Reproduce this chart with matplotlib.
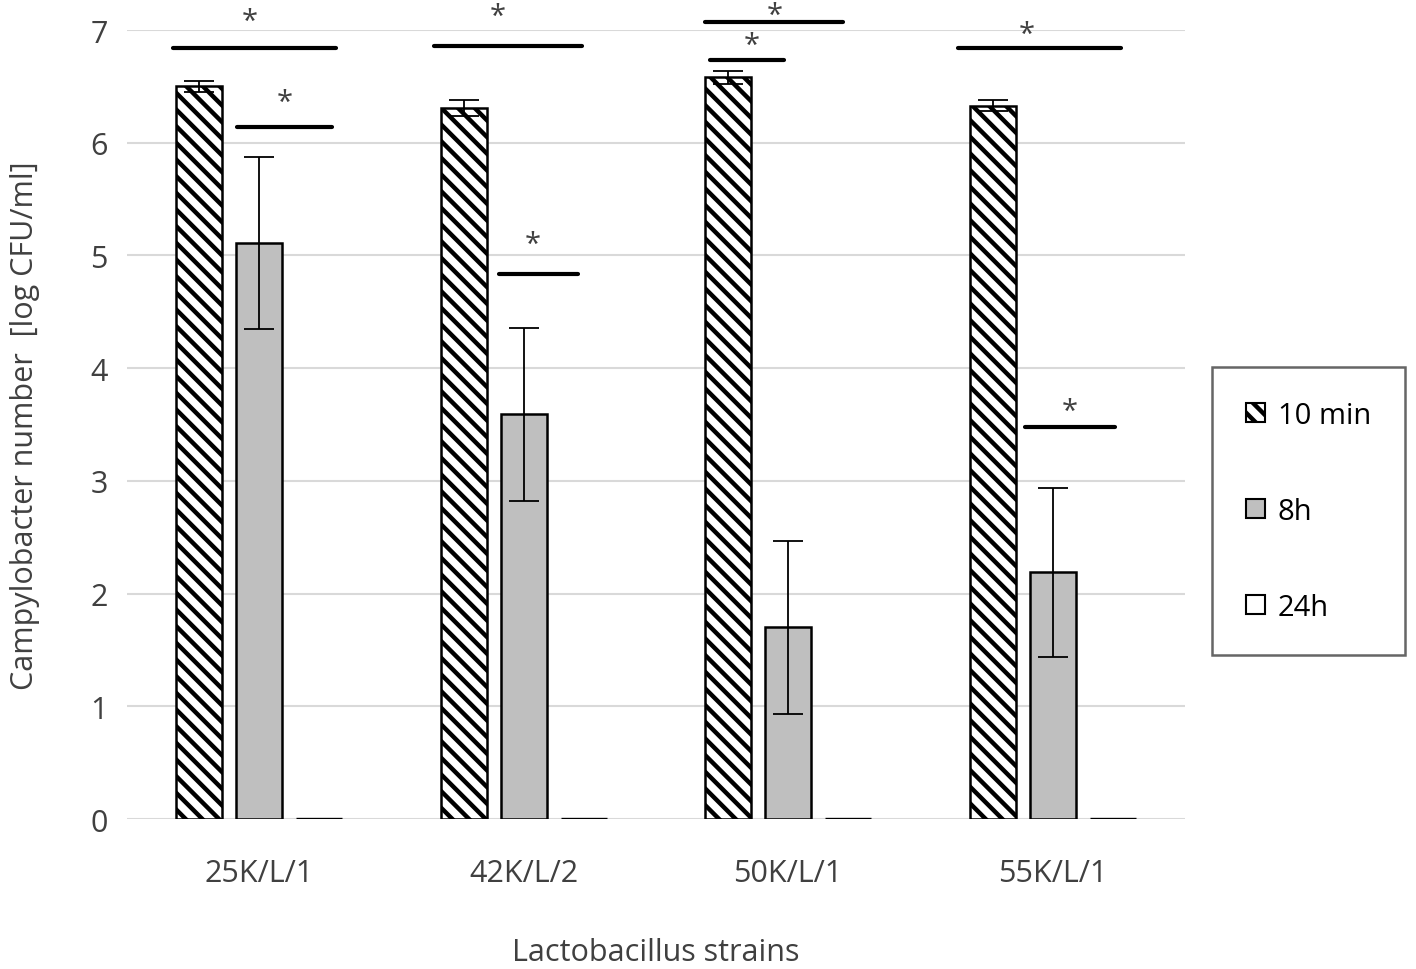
import numpy as np
import matplotlib
matplotlib.use("Agg")
from matplotlib import pyplot as plt

plt.rcParams['font.family'] = ['Open Sans', 'DejaVu Sans']
plt.rcParams['hatch.linewidth'] = 3.2

# data
strains = ['25K/L/1', '42K/L/2', '50K/L/1', '55K/L/1']
series = ['10 min', '8h', '24h']
min10 = [6.50, 6.31, 6.58, 6.33]
min10_err = [0.05, 0.07, 0.06, 0.05]
h8 = [5.11, 3.59, 1.70, 2.19]
h8_err = [0.76, 0.77, 0.77, 0.75]
h24 = [0, 0, 0, 0]

# significance bars: start, end, height; asterisk position
sig_x0 = [-0.326, -0.084, 0.661, 0.906, 1.685, 1.704, 2.642, 2.895]
sig_x1 = [0.290, 0.275, 1.220, 1.205, 2.207, 1.984, 3.258, 3.235]
sig_y = [6.84, 6.14, 6.86, 4.84, 7.07, 6.73, 6.84, 3.48]
star_x = [-0.035, 0.097, 0.903, 1.035, 1.95, 1.863, 2.903, 3.065]
star_y = [7.08, 6.36, 7.12, 5.10, 7.13, 6.86, 6.96, 3.62]

fig = plt.figure(figsize=(14.16, 9.70), dpi=100)
ax = fig.add_axes([0.0897, 0.1546, 0.7470, 0.8134])

x = np.arange(len(strains))
w = 0.174
step = 0.227
kw = dict(edgecolor='black', linewidth=1.8, zorder=3)
ekw = dict(ecolor='black', elinewidth=1.3, capsize=11, capthick=1.3)
ax.bar(x - step, min10, w, yerr=min10_err, color='white', hatch='\\\\', label=series[0], error_kw=ekw, **kw)
ax.bar(x, h8, w, yerr=h8_err, color='#BFBFBF', label=series[1], error_kw=ekw, **kw)
ax.bar(x + step, h24, w, color='white', label=series[2], edgecolor='black', linewidth=2.4, zorder=3)

for x0, x1, y in zip(sig_x0, sig_x1, sig_y):
    ax.plot([x0, x1], [y, y], color='black', lw=3, solid_capstyle='round', clip_on=False, zorder=4)
for sx, sy in zip(star_x, star_y):
    ax.text(sx, sy, '*', ha='center', va='center', fontsize=21, color='#404040', clip_on=False)

ax.set_xlim(-0.5, 3.5)
ax.set_ylim(0, 7)
ax.set_yticks(range(8))
ax.set_xticks(x)
ax.set_xticklabels(strains)
ax.yaxis.grid(True, color='#D9D9D9', lw=1.5, zorder=0)
ax.set_axisbelow(True)
for s in ax.spines.values():
    s.set_visible(False)
ax.tick_params(length=0, labelsize=22, colors='#404040', pad=14)
ax.tick_params(axis='x', pad=28)
ax.set_ylabel('Campylobacter number  [log CFU/ml]', fontsize=22, color='#404040', labelpad=36)
ax.set_xlabel('Lactobacillus strains', fontsize=22, color='#404040', labelpad=35)

leg = ax.legend(loc='center left', bbox_to_anchor=(1.026, 0.39),
                bbox_transform=ax.transAxes, fontsize=21, frameon=True, fancybox=False,
                edgecolor='#404040', handlelength=0.65, handleheight=0.65, handletextpad=0.45,
                labelspacing=2.3, borderpad=1.15, borderaxespad=0)
leg.get_frame().set_linewidth(1.8)
for h in leg.legend_handles:
    h.set_linewidth(1.5)

fig.savefig('out.png', dpi=100)
